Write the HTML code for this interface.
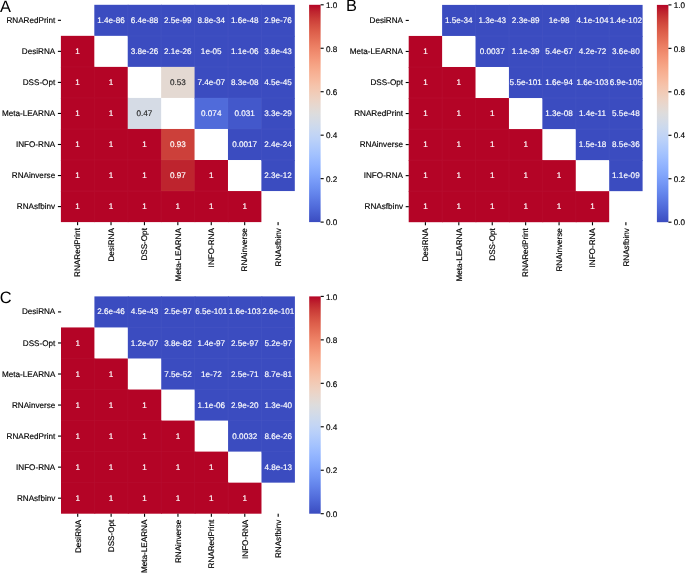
<!DOCTYPE html>
<html><head><meta charset="utf-8"><title>Figure</title>
<style>html,body{margin:0;padding:0;background:#fff;}body{width:685px;height:573px;overflow:hidden;}svg{display:block;}</style>
</head><body>
<svg width="685" height="573" viewBox="0 0 685 573" font-family="'Liberation Sans', Arial, Helvetica, sans-serif" font-size="8.13" text-rendering="geometricPrecision" stroke-width="0.16" stroke-linejoin="round">
<rect width="685" height="573" fill="#fff"/>
<defs><linearGradient id="cw" x1="0" y1="1" x2="0" y2="0">
<stop offset="0.0000" stop-color="#3b4cc0"/>
<stop offset="0.0312" stop-color="#445acc"/>
<stop offset="0.0625" stop-color="#4e68d8"/>
<stop offset="0.0938" stop-color="#5875e1"/>
<stop offset="0.1250" stop-color="#6282ea"/>
<stop offset="0.1562" stop-color="#6c8ff1"/>
<stop offset="0.1875" stop-color="#779af7"/>
<stop offset="0.2188" stop-color="#82a6fb"/>
<stop offset="0.2500" stop-color="#8db0fe"/>
<stop offset="0.2812" stop-color="#98b9ff"/>
<stop offset="0.3125" stop-color="#a3c2fe"/>
<stop offset="0.3438" stop-color="#aec9fc"/>
<stop offset="0.3750" stop-color="#b9d0f9"/>
<stop offset="0.4062" stop-color="#c3d5f4"/>
<stop offset="0.4375" stop-color="#ccd9ed"/>
<stop offset="0.4688" stop-color="#d5dbe5"/>
<stop offset="0.5000" stop-color="#dddcdc"/>
<stop offset="0.5312" stop-color="#e5d8d1"/>
<stop offset="0.5625" stop-color="#ecd3c5"/>
<stop offset="0.5938" stop-color="#f1ccb8"/>
<stop offset="0.6250" stop-color="#f5c4ac"/>
<stop offset="0.6562" stop-color="#f7ba9f"/>
<stop offset="0.6875" stop-color="#f7b093"/>
<stop offset="0.7188" stop-color="#f6a586"/>
<stop offset="0.7500" stop-color="#f4987a"/>
<stop offset="0.7812" stop-color="#f08b6e"/>
<stop offset="0.8125" stop-color="#eb7d62"/>
<stop offset="0.8438" stop-color="#e46e56"/>
<stop offset="0.8750" stop-color="#dd5f4b"/>
<stop offset="0.9062" stop-color="#d44e41"/>
<stop offset="0.9375" stop-color="#ca3b37"/>
<stop offset="0.9688" stop-color="#be242e"/>
<stop offset="1.0000" stop-color="#b40426"/>
</linearGradient></defs>
<g><text x="0.0" y="11.6" font-size="16.4" fill="#000">A</text>
<rect x="94.31" y="4.80" width="34.21" height="31.04" fill="#3b4cc0"/>
<text x="111.02" y="22.87" text-anchor="middle" fill="#fff" stroke="#fff">1.4e-86</text>
<rect x="127.73" y="4.80" width="34.21" height="31.84" fill="#3b4cc0"/>
<text x="144.44" y="22.87" text-anchor="middle" fill="#fff" stroke="#fff">6.4e-88</text>
<rect x="161.14" y="4.80" width="34.21" height="31.84" fill="#3b4cc0"/>
<text x="177.85" y="22.87" text-anchor="middle" fill="#fff" stroke="#fff">2.5e-99</text>
<rect x="194.56" y="4.80" width="34.21" height="31.84" fill="#3b4cc0"/>
<text x="211.26" y="22.87" text-anchor="middle" fill="#fff" stroke="#fff">8.8e-34</text>
<rect x="227.97" y="4.80" width="34.21" height="31.84" fill="#3b4cc0"/>
<text x="244.68" y="22.87" text-anchor="middle" fill="#fff" stroke="#fff">1.6e-48</text>
<rect x="261.39" y="4.80" width="33.41" height="31.84" fill="#3b4cc0"/>
<text x="278.09" y="22.87" text-anchor="middle" fill="#fff" stroke="#fff">2.9e-76</text>
<rect x="60.90" y="35.84" width="33.41" height="31.84" fill="#b40426"/>
<text x="77.61" y="53.91" text-anchor="middle" fill="#fff" stroke="#fff">1</text>
<rect x="127.73" y="35.84" width="34.21" height="31.04" fill="#3b4cc0"/>
<text x="144.44" y="53.91" text-anchor="middle" fill="#fff" stroke="#fff">3.8e-26</text>
<rect x="161.14" y="35.84" width="34.21" height="31.84" fill="#3b4cc0"/>
<text x="177.85" y="53.91" text-anchor="middle" fill="#fff" stroke="#fff">2.1e-26</text>
<rect x="194.56" y="35.84" width="34.21" height="31.84" fill="#3b4cc0"/>
<text x="211.26" y="53.91" text-anchor="middle" fill="#fff" stroke="#fff">1e-05</text>
<rect x="227.97" y="35.84" width="34.21" height="31.84" fill="#3b4cc0"/>
<text x="244.68" y="53.91" text-anchor="middle" fill="#fff" stroke="#fff">1.1e-06</text>
<rect x="261.39" y="35.84" width="33.41" height="31.84" fill="#3b4cc0"/>
<text x="278.09" y="53.91" text-anchor="middle" fill="#fff" stroke="#fff">3.8e-43</text>
<rect x="60.90" y="66.89" width="34.21" height="31.84" fill="#b40426"/>
<text x="77.61" y="84.96" text-anchor="middle" fill="#fff" stroke="#fff">1</text>
<rect x="94.31" y="66.89" width="33.41" height="31.84" fill="#b40426"/>
<text x="111.02" y="84.96" text-anchor="middle" fill="#fff" stroke="#fff">1</text>
<rect x="161.14" y="66.89" width="34.21" height="31.04" fill="#e4d9d2"/>
<text x="177.85" y="84.96" text-anchor="middle" fill="#262626" stroke="#262626">0.53</text>
<rect x="194.56" y="66.89" width="34.21" height="31.84" fill="#3b4cc0"/>
<text x="211.26" y="84.96" text-anchor="middle" fill="#fff" stroke="#fff">7.4e-07</text>
<rect x="227.97" y="66.89" width="34.21" height="31.84" fill="#3b4cc0"/>
<text x="244.68" y="84.96" text-anchor="middle" fill="#fff" stroke="#fff">8.3e-08</text>
<rect x="261.39" y="66.89" width="33.41" height="31.84" fill="#3b4cc0"/>
<text x="278.09" y="84.96" text-anchor="middle" fill="#fff" stroke="#fff">4.5e-45</text>
<rect x="60.90" y="97.93" width="34.21" height="31.84" fill="#b40426"/>
<text x="77.61" y="116.00" text-anchor="middle" fill="#fff" stroke="#fff">1</text>
<rect x="94.31" y="97.93" width="34.21" height="31.84" fill="#b40426"/>
<text x="111.02" y="116.00" text-anchor="middle" fill="#fff" stroke="#fff">1</text>
<rect x="127.73" y="97.93" width="33.41" height="31.84" fill="#d5dbe5"/>
<text x="144.44" y="116.00" text-anchor="middle" fill="#262626" stroke="#262626">0.47</text>
<rect x="194.56" y="97.93" width="34.21" height="31.04" fill="#506bda"/>
<text x="211.26" y="116.00" text-anchor="middle" fill="#fff" stroke="#fff">0.074</text>
<rect x="227.97" y="97.93" width="34.21" height="31.84" fill="#4358cb"/>
<text x="244.68" y="116.00" text-anchor="middle" fill="#fff" stroke="#fff">0.031</text>
<rect x="261.39" y="97.93" width="33.41" height="31.84" fill="#3b4cc0"/>
<text x="278.09" y="116.00" text-anchor="middle" fill="#fff" stroke="#fff">3.3e-29</text>
<rect x="60.90" y="128.97" width="34.21" height="31.84" fill="#b40426"/>
<text x="77.61" y="147.04" text-anchor="middle" fill="#fff" stroke="#fff">1</text>
<rect x="94.31" y="128.97" width="34.21" height="31.84" fill="#b40426"/>
<text x="111.02" y="147.04" text-anchor="middle" fill="#fff" stroke="#fff">1</text>
<rect x="127.73" y="128.97" width="34.21" height="31.84" fill="#b40426"/>
<text x="144.44" y="147.04" text-anchor="middle" fill="#fff" stroke="#fff">1</text>
<rect x="161.14" y="128.97" width="33.41" height="31.84" fill="#cc403a"/>
<text x="177.85" y="147.04" text-anchor="middle" fill="#fff" stroke="#fff">0.93</text>
<rect x="227.97" y="128.97" width="34.21" height="31.04" fill="#3b4cc0"/>
<text x="244.68" y="147.04" text-anchor="middle" fill="#fff" stroke="#fff">0.0017</text>
<rect x="261.39" y="128.97" width="33.41" height="31.84" fill="#3b4cc0"/>
<text x="278.09" y="147.04" text-anchor="middle" fill="#fff" stroke="#fff">2.4e-24</text>
<rect x="60.90" y="160.01" width="34.21" height="31.84" fill="#b40426"/>
<text x="77.61" y="178.09" text-anchor="middle" fill="#fff" stroke="#fff">1</text>
<rect x="94.31" y="160.01" width="34.21" height="31.84" fill="#b40426"/>
<text x="111.02" y="178.09" text-anchor="middle" fill="#fff" stroke="#fff">1</text>
<rect x="127.73" y="160.01" width="34.21" height="31.84" fill="#b40426"/>
<text x="144.44" y="178.09" text-anchor="middle" fill="#fff" stroke="#fff">1</text>
<rect x="161.14" y="160.01" width="34.21" height="31.84" fill="#be242e"/>
<text x="177.85" y="178.09" text-anchor="middle" fill="#fff" stroke="#fff">0.97</text>
<rect x="194.56" y="160.01" width="33.41" height="31.84" fill="#b40426"/>
<text x="211.26" y="178.09" text-anchor="middle" fill="#fff" stroke="#fff">1</text>
<rect x="261.39" y="160.01" width="33.41" height="31.04" fill="#3b4cc0"/>
<text x="278.09" y="178.09" text-anchor="middle" fill="#fff" stroke="#fff">2.3e-12</text>
<rect x="60.90" y="191.06" width="34.21" height="31.04" fill="#b40426"/>
<text x="77.61" y="209.13" text-anchor="middle" fill="#fff" stroke="#fff">1</text>
<rect x="94.31" y="191.06" width="34.21" height="31.04" fill="#b40426"/>
<text x="111.02" y="209.13" text-anchor="middle" fill="#fff" stroke="#fff">1</text>
<rect x="127.73" y="191.06" width="34.21" height="31.04" fill="#b40426"/>
<text x="144.44" y="209.13" text-anchor="middle" fill="#fff" stroke="#fff">1</text>
<rect x="161.14" y="191.06" width="34.21" height="31.04" fill="#b40426"/>
<text x="177.85" y="209.13" text-anchor="middle" fill="#fff" stroke="#fff">1</text>
<rect x="194.56" y="191.06" width="34.21" height="31.04" fill="#b40426"/>
<text x="211.26" y="209.13" text-anchor="middle" fill="#fff" stroke="#fff">1</text>
<rect x="227.97" y="191.06" width="33.41" height="31.04" fill="#b40426"/>
<text x="244.68" y="209.13" text-anchor="middle" fill="#fff" stroke="#fff">1</text>
<rect x="127.23" y="4.80" width="1" height="31.04" fill="#fff" fill-opacity="0.035"/>
<rect x="160.64" y="4.80" width="1" height="31.04" fill="#fff" fill-opacity="0.035"/>
<rect x="127.73" y="35.34" width="33.41" height="1" fill="#fff" fill-opacity="0.035"/>
<rect x="194.06" y="4.80" width="1" height="31.04" fill="#fff" fill-opacity="0.035"/>
<rect x="161.14" y="35.34" width="33.41" height="1" fill="#fff" fill-opacity="0.035"/>
<rect x="227.47" y="4.80" width="1" height="31.04" fill="#fff" fill-opacity="0.035"/>
<rect x="194.56" y="35.34" width="33.41" height="1" fill="#fff" fill-opacity="0.035"/>
<rect x="260.89" y="4.80" width="1" height="31.04" fill="#fff" fill-opacity="0.035"/>
<rect x="227.97" y="35.34" width="33.41" height="1" fill="#fff" fill-opacity="0.035"/>
<rect x="261.39" y="35.34" width="33.41" height="1" fill="#fff" fill-opacity="0.035"/>
<rect x="60.90" y="66.39" width="33.41" height="1" fill="#fff" fill-opacity="0.035"/>
<rect x="160.64" y="35.84" width="1" height="31.04" fill="#fff" fill-opacity="0.035"/>
<rect x="194.06" y="35.84" width="1" height="31.04" fill="#fff" fill-opacity="0.035"/>
<rect x="161.14" y="66.39" width="33.41" height="1" fill="#fff" fill-opacity="0.035"/>
<rect x="227.47" y="35.84" width="1" height="31.04" fill="#fff" fill-opacity="0.035"/>
<rect x="194.56" y="66.39" width="33.41" height="1" fill="#fff" fill-opacity="0.035"/>
<rect x="260.89" y="35.84" width="1" height="31.04" fill="#fff" fill-opacity="0.035"/>
<rect x="227.97" y="66.39" width="33.41" height="1" fill="#fff" fill-opacity="0.035"/>
<rect x="261.39" y="66.39" width="33.41" height="1" fill="#fff" fill-opacity="0.035"/>
<rect x="93.81" y="66.89" width="1" height="31.04" fill="#fff" fill-opacity="0.035"/>
<rect x="60.90" y="97.43" width="33.41" height="1" fill="#fff" fill-opacity="0.035"/>
<rect x="94.31" y="97.43" width="33.41" height="1" fill="#fff" fill-opacity="0.035"/>
<rect x="194.06" y="66.89" width="1" height="31.04" fill="#fff" fill-opacity="0.035"/>
<rect x="227.47" y="66.89" width="1" height="31.04" fill="#fff" fill-opacity="0.035"/>
<rect x="194.56" y="97.43" width="33.41" height="1" fill="#fff" fill-opacity="0.035"/>
<rect x="260.89" y="66.89" width="1" height="31.04" fill="#fff" fill-opacity="0.035"/>
<rect x="227.97" y="97.43" width="33.41" height="1" fill="#fff" fill-opacity="0.035"/>
<rect x="261.39" y="97.43" width="33.41" height="1" fill="#fff" fill-opacity="0.035"/>
<rect x="93.81" y="97.93" width="1" height="31.04" fill="#fff" fill-opacity="0.035"/>
<rect x="60.90" y="128.47" width="33.41" height="1" fill="#fff" fill-opacity="0.035"/>
<rect x="127.23" y="97.93" width="1" height="31.04" fill="#fff" fill-opacity="0.035"/>
<rect x="94.31" y="128.47" width="33.41" height="1" fill="#fff" fill-opacity="0.035"/>
<rect x="127.73" y="128.47" width="33.41" height="1" fill="#fff" fill-opacity="0.035"/>
<rect x="227.47" y="97.93" width="1" height="31.04" fill="#fff" fill-opacity="0.035"/>
<rect x="260.89" y="97.93" width="1" height="31.04" fill="#fff" fill-opacity="0.035"/>
<rect x="227.97" y="128.47" width="33.41" height="1" fill="#fff" fill-opacity="0.035"/>
<rect x="261.39" y="128.47" width="33.41" height="1" fill="#fff" fill-opacity="0.035"/>
<rect x="93.81" y="128.97" width="1" height="31.04" fill="#fff" fill-opacity="0.035"/>
<rect x="60.90" y="159.51" width="33.41" height="1" fill="#fff" fill-opacity="0.035"/>
<rect x="127.23" y="128.97" width="1" height="31.04" fill="#fff" fill-opacity="0.035"/>
<rect x="94.31" y="159.51" width="33.41" height="1" fill="#fff" fill-opacity="0.035"/>
<rect x="160.64" y="128.97" width="1" height="31.04" fill="#fff" fill-opacity="0.035"/>
<rect x="127.73" y="159.51" width="33.41" height="1" fill="#fff" fill-opacity="0.035"/>
<rect x="161.14" y="159.51" width="33.41" height="1" fill="#fff" fill-opacity="0.035"/>
<rect x="260.89" y="128.97" width="1" height="31.04" fill="#fff" fill-opacity="0.035"/>
<rect x="261.39" y="159.51" width="33.41" height="1" fill="#fff" fill-opacity="0.035"/>
<rect x="93.81" y="160.01" width="1" height="31.04" fill="#fff" fill-opacity="0.035"/>
<rect x="60.90" y="190.56" width="33.41" height="1" fill="#fff" fill-opacity="0.035"/>
<rect x="127.23" y="160.01" width="1" height="31.04" fill="#fff" fill-opacity="0.035"/>
<rect x="94.31" y="190.56" width="33.41" height="1" fill="#fff" fill-opacity="0.035"/>
<rect x="160.64" y="160.01" width="1" height="31.04" fill="#fff" fill-opacity="0.035"/>
<rect x="127.73" y="190.56" width="33.41" height="1" fill="#fff" fill-opacity="0.035"/>
<rect x="194.06" y="160.01" width="1" height="31.04" fill="#fff" fill-opacity="0.035"/>
<rect x="161.14" y="190.56" width="33.41" height="1" fill="#fff" fill-opacity="0.035"/>
<rect x="194.56" y="190.56" width="33.41" height="1" fill="#fff" fill-opacity="0.035"/>
<rect x="93.81" y="191.06" width="1" height="31.04" fill="#fff" fill-opacity="0.035"/>
<rect x="127.23" y="191.06" width="1" height="31.04" fill="#fff" fill-opacity="0.035"/>
<rect x="160.64" y="191.06" width="1" height="31.04" fill="#fff" fill-opacity="0.035"/>
<rect x="194.06" y="191.06" width="1" height="31.04" fill="#fff" fill-opacity="0.035"/>
<rect x="227.47" y="191.06" width="1" height="31.04" fill="#fff" fill-opacity="0.035"/>
<rect x="57.90" y="19.77" width="3.1" height="1.1" fill="#000"/>
<text x="55.20" y="22.87" text-anchor="end" fill="#000" stroke="#000">RNARedPrint</text>
<rect x="57.90" y="50.81" width="3.1" height="1.1" fill="#000"/>
<text x="55.20" y="53.91" text-anchor="end" fill="#000" stroke="#000">DesiRNA</text>
<rect x="57.90" y="81.86" width="3.1" height="1.1" fill="#000"/>
<text x="55.20" y="84.96" text-anchor="end" fill="#000" stroke="#000">DSS-Opt</text>
<rect x="57.90" y="112.90" width="3.1" height="1.1" fill="#000"/>
<text x="55.20" y="116.00" text-anchor="end" fill="#000" stroke="#000">Meta-LEARNA</text>
<rect x="57.90" y="143.94" width="3.1" height="1.1" fill="#000"/>
<text x="55.20" y="147.04" text-anchor="end" fill="#000" stroke="#000">INFO-RNA</text>
<rect x="57.90" y="174.99" width="3.1" height="1.1" fill="#000"/>
<text x="55.20" y="178.09" text-anchor="end" fill="#000" stroke="#000">RNAinverse</text>
<rect x="57.90" y="206.03" width="3.1" height="1.1" fill="#000"/>
<text x="55.20" y="209.13" text-anchor="end" fill="#000" stroke="#000">RNAsfbinv</text>
<rect x="77.06" y="222.10" width="1.1" height="3.1" fill="#000"/>
<text transform="translate(80.41,228.10) rotate(-90)" text-anchor="end" fill="#000" stroke="#000">RNARedPrint</text>
<rect x="110.47" y="222.10" width="1.1" height="3.1" fill="#000"/>
<text transform="translate(113.82,228.10) rotate(-90)" text-anchor="end" fill="#000" stroke="#000">DesiRNA</text>
<rect x="143.89" y="222.10" width="1.1" height="3.1" fill="#000"/>
<text transform="translate(147.24,228.10) rotate(-90)" text-anchor="end" fill="#000" stroke="#000">DSS-Opt</text>
<rect x="177.30" y="222.10" width="1.1" height="3.1" fill="#000"/>
<text transform="translate(180.65,228.10) rotate(-90)" text-anchor="end" fill="#000" stroke="#000">Meta-LEARNA</text>
<rect x="210.71" y="222.10" width="1.1" height="3.1" fill="#000"/>
<text transform="translate(214.06,228.10) rotate(-90)" text-anchor="end" fill="#000" stroke="#000">INFO-RNA</text>
<rect x="244.13" y="222.10" width="1.1" height="3.1" fill="#000"/>
<text transform="translate(247.48,228.10) rotate(-90)" text-anchor="end" fill="#000" stroke="#000">RNAinverse</text>
<rect x="277.54" y="222.10" width="1.1" height="3.1" fill="#000"/>
<text transform="translate(280.89,228.10) rotate(-90)" text-anchor="end" fill="#000" stroke="#000">RNAsfbinv</text>
<rect x="309.10" y="4.80" width="11.5" height="217.30" fill="url(#cw)"/>
<rect x="320.60" y="221.55" width="3.1" height="1.1" fill="#000"/>
<text x="326.00" y="225.10" fill="#000" stroke="#000">0.0</text>
<rect x="320.60" y="178.09" width="3.1" height="1.1" fill="#000"/>
<text x="326.00" y="181.74" fill="#000" stroke="#000">0.2</text>
<rect x="320.60" y="134.63" width="3.1" height="1.1" fill="#000"/>
<text x="326.00" y="138.38" fill="#000" stroke="#000">0.4</text>
<rect x="320.60" y="91.17" width="3.1" height="1.1" fill="#000"/>
<text x="326.00" y="95.02" fill="#000" stroke="#000">0.6</text>
<rect x="320.60" y="47.71" width="3.1" height="1.1" fill="#000"/>
<text x="326.00" y="51.66" fill="#000" stroke="#000">0.8</text>
<rect x="320.60" y="4.25" width="3.1" height="1.1" fill="#000"/>
<text x="326.00" y="8.30" fill="#000" stroke="#000">1.0</text></g>
<g><text x="346.1" y="11.3" font-size="16.4" fill="#000">B</text>
<rect x="442.11" y="4.90" width="34.21" height="31.04" fill="#3b4cc0"/>
<text x="458.82" y="22.97" text-anchor="middle" fill="#fff" stroke="#fff">1.5e-34</text>
<rect x="475.53" y="4.90" width="34.21" height="31.84" fill="#3b4cc0"/>
<text x="492.24" y="22.97" text-anchor="middle" fill="#fff" stroke="#fff">1.3e-43</text>
<rect x="508.94" y="4.90" width="34.21" height="31.84" fill="#3b4cc0"/>
<text x="525.65" y="22.97" text-anchor="middle" fill="#fff" stroke="#fff">2.3e-89</text>
<rect x="542.36" y="4.90" width="34.21" height="31.84" fill="#3b4cc0"/>
<text x="559.06" y="22.97" text-anchor="middle" fill="#fff" stroke="#fff">1e-98</text>
<rect x="575.77" y="4.90" width="34.21" height="31.84" fill="#3b4cc0"/>
<text x="592.48" y="22.97" text-anchor="middle" fill="#fff" stroke="#fff">4.1e-104</text>
<rect x="609.19" y="4.90" width="33.41" height="31.84" fill="#3b4cc0"/>
<text x="625.89" y="22.97" text-anchor="middle" fill="#fff" stroke="#fff">1.4e-102</text>
<rect x="408.70" y="35.94" width="33.41" height="31.84" fill="#b40426"/>
<text x="425.41" y="54.01" text-anchor="middle" fill="#fff" stroke="#fff">1</text>
<rect x="475.53" y="35.94" width="34.21" height="31.04" fill="#3b4cc0"/>
<text x="492.24" y="54.01" text-anchor="middle" fill="#fff" stroke="#fff">0.0037</text>
<rect x="508.94" y="35.94" width="34.21" height="31.84" fill="#3b4cc0"/>
<text x="525.65" y="54.01" text-anchor="middle" fill="#fff" stroke="#fff">1.1e-39</text>
<rect x="542.36" y="35.94" width="34.21" height="31.84" fill="#3b4cc0"/>
<text x="559.06" y="54.01" text-anchor="middle" fill="#fff" stroke="#fff">5.4e-67</text>
<rect x="575.77" y="35.94" width="34.21" height="31.84" fill="#3b4cc0"/>
<text x="592.48" y="54.01" text-anchor="middle" fill="#fff" stroke="#fff">4.2e-72</text>
<rect x="609.19" y="35.94" width="33.41" height="31.84" fill="#3b4cc0"/>
<text x="625.89" y="54.01" text-anchor="middle" fill="#fff" stroke="#fff">3.6e-80</text>
<rect x="408.70" y="66.99" width="34.21" height="31.84" fill="#b40426"/>
<text x="425.41" y="85.06" text-anchor="middle" fill="#fff" stroke="#fff">1</text>
<rect x="442.11" y="66.99" width="33.41" height="31.84" fill="#b40426"/>
<text x="458.82" y="85.06" text-anchor="middle" fill="#fff" stroke="#fff">1</text>
<rect x="508.94" y="66.99" width="34.21" height="31.04" fill="#3b4cc0"/>
<text x="525.65" y="85.06" text-anchor="middle" fill="#fff" stroke="#fff">5.5e-101</text>
<rect x="542.36" y="66.99" width="34.21" height="31.84" fill="#3b4cc0"/>
<text x="559.06" y="85.06" text-anchor="middle" fill="#fff" stroke="#fff">1.6e-94</text>
<rect x="575.77" y="66.99" width="34.21" height="31.84" fill="#3b4cc0"/>
<text x="592.48" y="85.06" text-anchor="middle" fill="#fff" stroke="#fff">1.6e-103</text>
<rect x="609.19" y="66.99" width="33.41" height="31.84" fill="#3b4cc0"/>
<text x="625.89" y="85.06" text-anchor="middle" fill="#fff" stroke="#fff">6.9e-105</text>
<rect x="408.70" y="98.03" width="34.21" height="31.84" fill="#b40426"/>
<text x="425.41" y="116.10" text-anchor="middle" fill="#fff" stroke="#fff">1</text>
<rect x="442.11" y="98.03" width="34.21" height="31.84" fill="#b40426"/>
<text x="458.82" y="116.10" text-anchor="middle" fill="#fff" stroke="#fff">1</text>
<rect x="475.53" y="98.03" width="33.41" height="31.84" fill="#b40426"/>
<text x="492.24" y="116.10" text-anchor="middle" fill="#fff" stroke="#fff">1</text>
<rect x="542.36" y="98.03" width="34.21" height="31.04" fill="#3b4cc0"/>
<text x="559.06" y="116.10" text-anchor="middle" fill="#fff" stroke="#fff">1.3e-08</text>
<rect x="575.77" y="98.03" width="34.21" height="31.84" fill="#3b4cc0"/>
<text x="592.48" y="116.10" text-anchor="middle" fill="#fff" stroke="#fff">1.4e-11</text>
<rect x="609.19" y="98.03" width="33.41" height="31.84" fill="#3b4cc0"/>
<text x="625.89" y="116.10" text-anchor="middle" fill="#fff" stroke="#fff">5.5e-48</text>
<rect x="408.70" y="129.07" width="34.21" height="31.84" fill="#b40426"/>
<text x="425.41" y="147.14" text-anchor="middle" fill="#fff" stroke="#fff">1</text>
<rect x="442.11" y="129.07" width="34.21" height="31.84" fill="#b40426"/>
<text x="458.82" y="147.14" text-anchor="middle" fill="#fff" stroke="#fff">1</text>
<rect x="475.53" y="129.07" width="34.21" height="31.84" fill="#b40426"/>
<text x="492.24" y="147.14" text-anchor="middle" fill="#fff" stroke="#fff">1</text>
<rect x="508.94" y="129.07" width="33.41" height="31.84" fill="#b40426"/>
<text x="525.65" y="147.14" text-anchor="middle" fill="#fff" stroke="#fff">1</text>
<rect x="575.77" y="129.07" width="34.21" height="31.04" fill="#3b4cc0"/>
<text x="592.48" y="147.14" text-anchor="middle" fill="#fff" stroke="#fff">1.5e-18</text>
<rect x="609.19" y="129.07" width="33.41" height="31.84" fill="#3b4cc0"/>
<text x="625.89" y="147.14" text-anchor="middle" fill="#fff" stroke="#fff">8.5e-36</text>
<rect x="408.70" y="160.11" width="34.21" height="31.84" fill="#b40426"/>
<text x="425.41" y="178.19" text-anchor="middle" fill="#fff" stroke="#fff">1</text>
<rect x="442.11" y="160.11" width="34.21" height="31.84" fill="#b40426"/>
<text x="458.82" y="178.19" text-anchor="middle" fill="#fff" stroke="#fff">1</text>
<rect x="475.53" y="160.11" width="34.21" height="31.84" fill="#b40426"/>
<text x="492.24" y="178.19" text-anchor="middle" fill="#fff" stroke="#fff">1</text>
<rect x="508.94" y="160.11" width="34.21" height="31.84" fill="#b40426"/>
<text x="525.65" y="178.19" text-anchor="middle" fill="#fff" stroke="#fff">1</text>
<rect x="542.36" y="160.11" width="33.41" height="31.84" fill="#b40426"/>
<text x="559.06" y="178.19" text-anchor="middle" fill="#fff" stroke="#fff">1</text>
<rect x="609.19" y="160.11" width="33.41" height="31.04" fill="#3b4cc0"/>
<text x="625.89" y="178.19" text-anchor="middle" fill="#fff" stroke="#fff">1.1e-09</text>
<rect x="408.70" y="191.16" width="34.21" height="31.04" fill="#b40426"/>
<text x="425.41" y="209.23" text-anchor="middle" fill="#fff" stroke="#fff">1</text>
<rect x="442.11" y="191.16" width="34.21" height="31.04" fill="#b40426"/>
<text x="458.82" y="209.23" text-anchor="middle" fill="#fff" stroke="#fff">1</text>
<rect x="475.53" y="191.16" width="34.21" height="31.04" fill="#b40426"/>
<text x="492.24" y="209.23" text-anchor="middle" fill="#fff" stroke="#fff">1</text>
<rect x="508.94" y="191.16" width="34.21" height="31.04" fill="#b40426"/>
<text x="525.65" y="209.23" text-anchor="middle" fill="#fff" stroke="#fff">1</text>
<rect x="542.36" y="191.16" width="34.21" height="31.04" fill="#b40426"/>
<text x="559.06" y="209.23" text-anchor="middle" fill="#fff" stroke="#fff">1</text>
<rect x="575.77" y="191.16" width="33.41" height="31.04" fill="#b40426"/>
<text x="592.48" y="209.23" text-anchor="middle" fill="#fff" stroke="#fff">1</text>
<rect x="475.03" y="4.90" width="1" height="31.04" fill="#fff" fill-opacity="0.035"/>
<rect x="508.44" y="4.90" width="1" height="31.04" fill="#fff" fill-opacity="0.035"/>
<rect x="475.53" y="35.44" width="33.41" height="1" fill="#fff" fill-opacity="0.035"/>
<rect x="541.86" y="4.90" width="1" height="31.04" fill="#fff" fill-opacity="0.035"/>
<rect x="508.94" y="35.44" width="33.41" height="1" fill="#fff" fill-opacity="0.035"/>
<rect x="575.27" y="4.90" width="1" height="31.04" fill="#fff" fill-opacity="0.035"/>
<rect x="542.36" y="35.44" width="33.41" height="1" fill="#fff" fill-opacity="0.035"/>
<rect x="608.69" y="4.90" width="1" height="31.04" fill="#fff" fill-opacity="0.035"/>
<rect x="575.77" y="35.44" width="33.41" height="1" fill="#fff" fill-opacity="0.035"/>
<rect x="609.19" y="35.44" width="33.41" height="1" fill="#fff" fill-opacity="0.035"/>
<rect x="408.70" y="66.49" width="33.41" height="1" fill="#fff" fill-opacity="0.035"/>
<rect x="508.44" y="35.94" width="1" height="31.04" fill="#fff" fill-opacity="0.035"/>
<rect x="541.86" y="35.94" width="1" height="31.04" fill="#fff" fill-opacity="0.035"/>
<rect x="508.94" y="66.49" width="33.41" height="1" fill="#fff" fill-opacity="0.035"/>
<rect x="575.27" y="35.94" width="1" height="31.04" fill="#fff" fill-opacity="0.035"/>
<rect x="542.36" y="66.49" width="33.41" height="1" fill="#fff" fill-opacity="0.035"/>
<rect x="608.69" y="35.94" width="1" height="31.04" fill="#fff" fill-opacity="0.035"/>
<rect x="575.77" y="66.49" width="33.41" height="1" fill="#fff" fill-opacity="0.035"/>
<rect x="609.19" y="66.49" width="33.41" height="1" fill="#fff" fill-opacity="0.035"/>
<rect x="441.61" y="66.99" width="1" height="31.04" fill="#fff" fill-opacity="0.035"/>
<rect x="408.70" y="97.53" width="33.41" height="1" fill="#fff" fill-opacity="0.035"/>
<rect x="442.11" y="97.53" width="33.41" height="1" fill="#fff" fill-opacity="0.035"/>
<rect x="541.86" y="66.99" width="1" height="31.04" fill="#fff" fill-opacity="0.035"/>
<rect x="575.27" y="66.99" width="1" height="31.04" fill="#fff" fill-opacity="0.035"/>
<rect x="542.36" y="97.53" width="33.41" height="1" fill="#fff" fill-opacity="0.035"/>
<rect x="608.69" y="66.99" width="1" height="31.04" fill="#fff" fill-opacity="0.035"/>
<rect x="575.77" y="97.53" width="33.41" height="1" fill="#fff" fill-opacity="0.035"/>
<rect x="609.19" y="97.53" width="33.41" height="1" fill="#fff" fill-opacity="0.035"/>
<rect x="441.61" y="98.03" width="1" height="31.04" fill="#fff" fill-opacity="0.035"/>
<rect x="408.70" y="128.57" width="33.41" height="1" fill="#fff" fill-opacity="0.035"/>
<rect x="475.03" y="98.03" width="1" height="31.04" fill="#fff" fill-opacity="0.035"/>
<rect x="442.11" y="128.57" width="33.41" height="1" fill="#fff" fill-opacity="0.035"/>
<rect x="475.53" y="128.57" width="33.41" height="1" fill="#fff" fill-opacity="0.035"/>
<rect x="575.27" y="98.03" width="1" height="31.04" fill="#fff" fill-opacity="0.035"/>
<rect x="608.69" y="98.03" width="1" height="31.04" fill="#fff" fill-opacity="0.035"/>
<rect x="575.77" y="128.57" width="33.41" height="1" fill="#fff" fill-opacity="0.035"/>
<rect x="609.19" y="128.57" width="33.41" height="1" fill="#fff" fill-opacity="0.035"/>
<rect x="441.61" y="129.07" width="1" height="31.04" fill="#fff" fill-opacity="0.035"/>
<rect x="408.70" y="159.61" width="33.41" height="1" fill="#fff" fill-opacity="0.035"/>
<rect x="475.03" y="129.07" width="1" height="31.04" fill="#fff" fill-opacity="0.035"/>
<rect x="442.11" y="159.61" width="33.41" height="1" fill="#fff" fill-opacity="0.035"/>
<rect x="508.44" y="129.07" width="1" height="31.04" fill="#fff" fill-opacity="0.035"/>
<rect x="475.53" y="159.61" width="33.41" height="1" fill="#fff" fill-opacity="0.035"/>
<rect x="508.94" y="159.61" width="33.41" height="1" fill="#fff" fill-opacity="0.035"/>
<rect x="608.69" y="129.07" width="1" height="31.04" fill="#fff" fill-opacity="0.035"/>
<rect x="609.19" y="159.61" width="33.41" height="1" fill="#fff" fill-opacity="0.035"/>
<rect x="441.61" y="160.11" width="1" height="31.04" fill="#fff" fill-opacity="0.035"/>
<rect x="408.70" y="190.66" width="33.41" height="1" fill="#fff" fill-opacity="0.035"/>
<rect x="475.03" y="160.11" width="1" height="31.04" fill="#fff" fill-opacity="0.035"/>
<rect x="442.11" y="190.66" width="33.41" height="1" fill="#fff" fill-opacity="0.035"/>
<rect x="508.44" y="160.11" width="1" height="31.04" fill="#fff" fill-opacity="0.035"/>
<rect x="475.53" y="190.66" width="33.41" height="1" fill="#fff" fill-opacity="0.035"/>
<rect x="541.86" y="160.11" width="1" height="31.04" fill="#fff" fill-opacity="0.035"/>
<rect x="508.94" y="190.66" width="33.41" height="1" fill="#fff" fill-opacity="0.035"/>
<rect x="542.36" y="190.66" width="33.41" height="1" fill="#fff" fill-opacity="0.035"/>
<rect x="441.61" y="191.16" width="1" height="31.04" fill="#fff" fill-opacity="0.035"/>
<rect x="475.03" y="191.16" width="1" height="31.04" fill="#fff" fill-opacity="0.035"/>
<rect x="508.44" y="191.16" width="1" height="31.04" fill="#fff" fill-opacity="0.035"/>
<rect x="541.86" y="191.16" width="1" height="31.04" fill="#fff" fill-opacity="0.035"/>
<rect x="575.27" y="191.16" width="1" height="31.04" fill="#fff" fill-opacity="0.035"/>
<rect x="405.70" y="19.87" width="3.1" height="1.1" fill="#000"/>
<text x="403.00" y="22.97" text-anchor="end" fill="#000" stroke="#000">DesiRNA</text>
<rect x="405.70" y="50.91" width="3.1" height="1.1" fill="#000"/>
<text x="403.00" y="54.01" text-anchor="end" fill="#000" stroke="#000">Meta-LEARNA</text>
<rect x="405.70" y="81.96" width="3.1" height="1.1" fill="#000"/>
<text x="403.00" y="85.06" text-anchor="end" fill="#000" stroke="#000">DSS-Opt</text>
<rect x="405.70" y="113.00" width="3.1" height="1.1" fill="#000"/>
<text x="403.00" y="116.10" text-anchor="end" fill="#000" stroke="#000">RNARedPrint</text>
<rect x="405.70" y="144.04" width="3.1" height="1.1" fill="#000"/>
<text x="403.00" y="147.14" text-anchor="end" fill="#000" stroke="#000">RNAinverse</text>
<rect x="405.70" y="175.09" width="3.1" height="1.1" fill="#000"/>
<text x="403.00" y="178.19" text-anchor="end" fill="#000" stroke="#000">INFO-RNA</text>
<rect x="405.70" y="206.13" width="3.1" height="1.1" fill="#000"/>
<text x="403.00" y="209.23" text-anchor="end" fill="#000" stroke="#000">RNAsfbinv</text>
<rect x="424.86" y="222.20" width="1.1" height="3.1" fill="#000"/>
<text transform="translate(428.21,228.20) rotate(-90)" text-anchor="end" fill="#000" stroke="#000">DesiRNA</text>
<rect x="458.27" y="222.20" width="1.1" height="3.1" fill="#000"/>
<text transform="translate(461.62,228.20) rotate(-90)" text-anchor="end" fill="#000" stroke="#000">Meta-LEARNA</text>
<rect x="491.69" y="222.20" width="1.1" height="3.1" fill="#000"/>
<text transform="translate(495.04,228.20) rotate(-90)" text-anchor="end" fill="#000" stroke="#000">DSS-Opt</text>
<rect x="525.10" y="222.20" width="1.1" height="3.1" fill="#000"/>
<text transform="translate(528.45,228.20) rotate(-90)" text-anchor="end" fill="#000" stroke="#000">RNARedPrint</text>
<rect x="558.51" y="222.20" width="1.1" height="3.1" fill="#000"/>
<text transform="translate(561.86,228.20) rotate(-90)" text-anchor="end" fill="#000" stroke="#000">RNAinverse</text>
<rect x="591.93" y="222.20" width="1.1" height="3.1" fill="#000"/>
<text transform="translate(595.28,228.20) rotate(-90)" text-anchor="end" fill="#000" stroke="#000">INFO-RNA</text>
<rect x="625.34" y="222.20" width="1.1" height="3.1" fill="#000"/>
<text transform="translate(628.69,228.20) rotate(-90)" text-anchor="end" fill="#000" stroke="#000">RNAsfbinv</text>
<rect x="656.90" y="4.90" width="11.5" height="217.30" fill="url(#cw)"/>
<rect x="668.40" y="221.65" width="3.1" height="1.1" fill="#000"/>
<text x="673.80" y="225.20" fill="#000" stroke="#000">0.0</text>
<rect x="668.40" y="178.19" width="3.1" height="1.1" fill="#000"/>
<text x="673.80" y="181.84" fill="#000" stroke="#000">0.2</text>
<rect x="668.40" y="134.73" width="3.1" height="1.1" fill="#000"/>
<text x="673.80" y="138.48" fill="#000" stroke="#000">0.4</text>
<rect x="668.40" y="91.27" width="3.1" height="1.1" fill="#000"/>
<text x="673.80" y="95.12" fill="#000" stroke="#000">0.6</text>
<rect x="668.40" y="47.81" width="3.1" height="1.1" fill="#000"/>
<text x="673.80" y="51.76" fill="#000" stroke="#000">0.8</text>
<rect x="668.40" y="4.35" width="3.1" height="1.1" fill="#000"/>
<text x="673.80" y="8.40" fill="#000" stroke="#000">1.0</text></g>
<g><text x="-0.3" y="303.3" font-size="16.4" fill="#000">C</text>
<rect x="94.41" y="296.40" width="34.21" height="31.04" fill="#3b4cc0"/>
<text x="111.12" y="314.47" text-anchor="middle" fill="#fff" stroke="#fff">2.6e-46</text>
<rect x="127.83" y="296.40" width="34.21" height="31.84" fill="#3b4cc0"/>
<text x="144.54" y="314.47" text-anchor="middle" fill="#fff" stroke="#fff">4.5e-43</text>
<rect x="161.24" y="296.40" width="34.21" height="31.84" fill="#3b4cc0"/>
<text x="177.95" y="314.47" text-anchor="middle" fill="#fff" stroke="#fff">2.5e-97</text>
<rect x="194.66" y="296.40" width="34.21" height="31.84" fill="#3b4cc0"/>
<text x="211.36" y="314.47" text-anchor="middle" fill="#fff" stroke="#fff">6.5e-101</text>
<rect x="228.07" y="296.40" width="34.21" height="31.84" fill="#3b4cc0"/>
<text x="244.78" y="314.47" text-anchor="middle" fill="#fff" stroke="#fff">1.6e-103</text>
<rect x="261.49" y="296.40" width="33.41" height="31.84" fill="#3b4cc0"/>
<text x="278.19" y="314.47" text-anchor="middle" fill="#fff" stroke="#fff">2.6e-101</text>
<rect x="61.00" y="327.44" width="33.41" height="31.84" fill="#b40426"/>
<text x="77.71" y="345.51" text-anchor="middle" fill="#fff" stroke="#fff">1</text>
<rect x="127.83" y="327.44" width="34.21" height="31.04" fill="#3b4cc0"/>
<text x="144.54" y="345.51" text-anchor="middle" fill="#fff" stroke="#fff">1.2e-07</text>
<rect x="161.24" y="327.44" width="34.21" height="31.84" fill="#3b4cc0"/>
<text x="177.95" y="345.51" text-anchor="middle" fill="#fff" stroke="#fff">3.8e-82</text>
<rect x="194.66" y="327.44" width="34.21" height="31.84" fill="#3b4cc0"/>
<text x="211.36" y="345.51" text-anchor="middle" fill="#fff" stroke="#fff">1.4e-97</text>
<rect x="228.07" y="327.44" width="34.21" height="31.84" fill="#3b4cc0"/>
<text x="244.78" y="345.51" text-anchor="middle" fill="#fff" stroke="#fff">2.5e-97</text>
<rect x="261.49" y="327.44" width="33.41" height="31.84" fill="#3b4cc0"/>
<text x="278.19" y="345.51" text-anchor="middle" fill="#fff" stroke="#fff">5.2e-97</text>
<rect x="61.00" y="358.49" width="34.21" height="31.84" fill="#b40426"/>
<text x="77.71" y="376.56" text-anchor="middle" fill="#fff" stroke="#fff">1</text>
<rect x="94.41" y="358.49" width="33.41" height="31.84" fill="#b40426"/>
<text x="111.12" y="376.56" text-anchor="middle" fill="#fff" stroke="#fff">1</text>
<rect x="161.24" y="358.49" width="34.21" height="31.04" fill="#3b4cc0"/>
<text x="177.95" y="376.56" text-anchor="middle" fill="#fff" stroke="#fff">7.5e-52</text>
<rect x="194.66" y="358.49" width="34.21" height="31.84" fill="#3b4cc0"/>
<text x="211.36" y="376.56" text-anchor="middle" fill="#fff" stroke="#fff">1e-72</text>
<rect x="228.07" y="358.49" width="34.21" height="31.84" fill="#3b4cc0"/>
<text x="244.78" y="376.56" text-anchor="middle" fill="#fff" stroke="#fff">2.5e-71</text>
<rect x="261.49" y="358.49" width="33.41" height="31.84" fill="#3b4cc0"/>
<text x="278.19" y="376.56" text-anchor="middle" fill="#fff" stroke="#fff">8.7e-81</text>
<rect x="61.00" y="389.53" width="34.21" height="31.84" fill="#b40426"/>
<text x="77.71" y="407.60" text-anchor="middle" fill="#fff" stroke="#fff">1</text>
<rect x="94.41" y="389.53" width="34.21" height="31.84" fill="#b40426"/>
<text x="111.12" y="407.60" text-anchor="middle" fill="#fff" stroke="#fff">1</text>
<rect x="127.83" y="389.53" width="33.41" height="31.84" fill="#b40426"/>
<text x="144.54" y="407.60" text-anchor="middle" fill="#fff" stroke="#fff">1</text>
<rect x="194.66" y="389.53" width="34.21" height="31.04" fill="#3b4cc0"/>
<text x="211.36" y="407.60" text-anchor="middle" fill="#fff" stroke="#fff">1.1e-06</text>
<rect x="228.07" y="389.53" width="34.21" height="31.84" fill="#3b4cc0"/>
<text x="244.78" y="407.60" text-anchor="middle" fill="#fff" stroke="#fff">2.9e-20</text>
<rect x="261.49" y="389.53" width="33.41" height="31.84" fill="#3b4cc0"/>
<text x="278.19" y="407.60" text-anchor="middle" fill="#fff" stroke="#fff">1.3e-40</text>
<rect x="61.00" y="420.57" width="34.21" height="31.84" fill="#b40426"/>
<text x="77.71" y="438.64" text-anchor="middle" fill="#fff" stroke="#fff">1</text>
<rect x="94.41" y="420.57" width="34.21" height="31.84" fill="#b40426"/>
<text x="111.12" y="438.64" text-anchor="middle" fill="#fff" stroke="#fff">1</text>
<rect x="127.83" y="420.57" width="34.21" height="31.84" fill="#b40426"/>
<text x="144.54" y="438.64" text-anchor="middle" fill="#fff" stroke="#fff">1</text>
<rect x="161.24" y="420.57" width="33.41" height="31.84" fill="#b40426"/>
<text x="177.95" y="438.64" text-anchor="middle" fill="#fff" stroke="#fff">1</text>
<rect x="228.07" y="420.57" width="34.21" height="31.04" fill="#3b4cc0"/>
<text x="244.78" y="438.64" text-anchor="middle" fill="#fff" stroke="#fff">0.0032</text>
<rect x="261.49" y="420.57" width="33.41" height="31.84" fill="#3b4cc0"/>
<text x="278.19" y="438.64" text-anchor="middle" fill="#fff" stroke="#fff">8.6e-26</text>
<rect x="61.00" y="451.61" width="34.21" height="31.84" fill="#b40426"/>
<text x="77.71" y="469.69" text-anchor="middle" fill="#fff" stroke="#fff">1</text>
<rect x="94.41" y="451.61" width="34.21" height="31.84" fill="#b40426"/>
<text x="111.12" y="469.69" text-anchor="middle" fill="#fff" stroke="#fff">1</text>
<rect x="127.83" y="451.61" width="34.21" height="31.84" fill="#b40426"/>
<text x="144.54" y="469.69" text-anchor="middle" fill="#fff" stroke="#fff">1</text>
<rect x="161.24" y="451.61" width="34.21" height="31.84" fill="#b40426"/>
<text x="177.95" y="469.69" text-anchor="middle" fill="#fff" stroke="#fff">1</text>
<rect x="194.66" y="451.61" width="33.41" height="31.84" fill="#b40426"/>
<text x="211.36" y="469.69" text-anchor="middle" fill="#fff" stroke="#fff">1</text>
<rect x="261.49" y="451.61" width="33.41" height="31.04" fill="#3b4cc0"/>
<text x="278.19" y="469.69" text-anchor="middle" fill="#fff" stroke="#fff">4.8e-13</text>
<rect x="61.00" y="482.66" width="34.21" height="31.04" fill="#b40426"/>
<text x="77.71" y="500.73" text-anchor="middle" fill="#fff" stroke="#fff">1</text>
<rect x="94.41" y="482.66" width="34.21" height="31.04" fill="#b40426"/>
<text x="111.12" y="500.73" text-anchor="middle" fill="#fff" stroke="#fff">1</text>
<rect x="127.83" y="482.66" width="34.21" height="31.04" fill="#b40426"/>
<text x="144.54" y="500.73" text-anchor="middle" fill="#fff" stroke="#fff">1</text>
<rect x="161.24" y="482.66" width="34.21" height="31.04" fill="#b40426"/>
<text x="177.95" y="500.73" text-anchor="middle" fill="#fff" stroke="#fff">1</text>
<rect x="194.66" y="482.66" width="34.21" height="31.04" fill="#b40426"/>
<text x="211.36" y="500.73" text-anchor="middle" fill="#fff" stroke="#fff">1</text>
<rect x="228.07" y="482.66" width="33.41" height="31.04" fill="#b40426"/>
<text x="244.78" y="500.73" text-anchor="middle" fill="#fff" stroke="#fff">1</text>
<rect x="127.33" y="296.40" width="1" height="31.04" fill="#fff" fill-opacity="0.035"/>
<rect x="160.74" y="296.40" width="1" height="31.04" fill="#fff" fill-opacity="0.035"/>
<rect x="127.83" y="326.94" width="33.41" height="1" fill="#fff" fill-opacity="0.035"/>
<rect x="194.16" y="296.40" width="1" height="31.04" fill="#fff" fill-opacity="0.035"/>
<rect x="161.24" y="326.94" width="33.41" height="1" fill="#fff" fill-opacity="0.035"/>
<rect x="227.57" y="296.40" width="1" height="31.04" fill="#fff" fill-opacity="0.035"/>
<rect x="194.66" y="326.94" width="33.41" height="1" fill="#fff" fill-opacity="0.035"/>
<rect x="260.99" y="296.40" width="1" height="31.04" fill="#fff" fill-opacity="0.035"/>
<rect x="228.07" y="326.94" width="33.41" height="1" fill="#fff" fill-opacity="0.035"/>
<rect x="261.49" y="326.94" width="33.41" height="1" fill="#fff" fill-opacity="0.035"/>
<rect x="61.00" y="357.99" width="33.41" height="1" fill="#fff" fill-opacity="0.035"/>
<rect x="160.74" y="327.44" width="1" height="31.04" fill="#fff" fill-opacity="0.035"/>
<rect x="194.16" y="327.44" width="1" height="31.04" fill="#fff" fill-opacity="0.035"/>
<rect x="161.24" y="357.99" width="33.41" height="1" fill="#fff" fill-opacity="0.035"/>
<rect x="227.57" y="327.44" width="1" height="31.04" fill="#fff" fill-opacity="0.035"/>
<rect x="194.66" y="357.99" width="33.41" height="1" fill="#fff" fill-opacity="0.035"/>
<rect x="260.99" y="327.44" width="1" height="31.04" fill="#fff" fill-opacity="0.035"/>
<rect x="228.07" y="357.99" width="33.41" height="1" fill="#fff" fill-opacity="0.035"/>
<rect x="261.49" y="357.99" width="33.41" height="1" fill="#fff" fill-opacity="0.035"/>
<rect x="93.91" y="358.49" width="1" height="31.04" fill="#fff" fill-opacity="0.035"/>
<rect x="61.00" y="389.03" width="33.41" height="1" fill="#fff" fill-opacity="0.035"/>
<rect x="94.41" y="389.03" width="33.41" height="1" fill="#fff" fill-opacity="0.035"/>
<rect x="194.16" y="358.49" width="1" height="31.04" fill="#fff" fill-opacity="0.035"/>
<rect x="227.57" y="358.49" width="1" height="31.04" fill="#fff" fill-opacity="0.035"/>
<rect x="194.66" y="389.03" width="33.41" height="1" fill="#fff" fill-opacity="0.035"/>
<rect x="260.99" y="358.49" width="1" height="31.04" fill="#fff" fill-opacity="0.035"/>
<rect x="228.07" y="389.03" width="33.41" height="1" fill="#fff" fill-opacity="0.035"/>
<rect x="261.49" y="389.03" width="33.41" height="1" fill="#fff" fill-opacity="0.035"/>
<rect x="93.91" y="389.53" width="1" height="31.04" fill="#fff" fill-opacity="0.035"/>
<rect x="61.00" y="420.07" width="33.41" height="1" fill="#fff" fill-opacity="0.035"/>
<rect x="127.33" y="389.53" width="1" height="31.04" fill="#fff" fill-opacity="0.035"/>
<rect x="94.41" y="420.07" width="33.41" height="1" fill="#fff" fill-opacity="0.035"/>
<rect x="127.83" y="420.07" width="33.41" height="1" fill="#fff" fill-opacity="0.035"/>
<rect x="227.57" y="389.53" width="1" height="31.04" fill="#fff" fill-opacity="0.035"/>
<rect x="260.99" y="389.53" width="1" height="31.04" fill="#fff" fill-opacity="0.035"/>
<rect x="228.07" y="420.07" width="33.41" height="1" fill="#fff" fill-opacity="0.035"/>
<rect x="261.49" y="420.07" width="33.41" height="1" fill="#fff" fill-opacity="0.035"/>
<rect x="93.91" y="420.57" width="1" height="31.04" fill="#fff" fill-opacity="0.035"/>
<rect x="61.00" y="451.11" width="33.41" height="1" fill="#fff" fill-opacity="0.035"/>
<rect x="127.33" y="420.57" width="1" height="31.04" fill="#fff" fill-opacity="0.035"/>
<rect x="94.41" y="451.11" width="33.41" height="1" fill="#fff" fill-opacity="0.035"/>
<rect x="160.74" y="420.57" width="1" height="31.04" fill="#fff" fill-opacity="0.035"/>
<rect x="127.83" y="451.11" width="33.41" height="1" fill="#fff" fill-opacity="0.035"/>
<rect x="161.24" y="451.11" width="33.41" height="1" fill="#fff" fill-opacity="0.035"/>
<rect x="260.99" y="420.57" width="1" height="31.04" fill="#fff" fill-opacity="0.035"/>
<rect x="261.49" y="451.11" width="33.41" height="1" fill="#fff" fill-opacity="0.035"/>
<rect x="93.91" y="451.61" width="1" height="31.04" fill="#fff" fill-opacity="0.035"/>
<rect x="61.00" y="482.16" width="33.41" height="1" fill="#fff" fill-opacity="0.035"/>
<rect x="127.33" y="451.61" width="1" height="31.04" fill="#fff" fill-opacity="0.035"/>
<rect x="94.41" y="482.16" width="33.41" height="1" fill="#fff" fill-opacity="0.035"/>
<rect x="160.74" y="451.61" width="1" height="31.04" fill="#fff" fill-opacity="0.035"/>
<rect x="127.83" y="482.16" width="33.41" height="1" fill="#fff" fill-opacity="0.035"/>
<rect x="194.16" y="451.61" width="1" height="31.04" fill="#fff" fill-opacity="0.035"/>
<rect x="161.24" y="482.16" width="33.41" height="1" fill="#fff" fill-opacity="0.035"/>
<rect x="194.66" y="482.16" width="33.41" height="1" fill="#fff" fill-opacity="0.035"/>
<rect x="93.91" y="482.66" width="1" height="31.04" fill="#fff" fill-opacity="0.035"/>
<rect x="127.33" y="482.66" width="1" height="31.04" fill="#fff" fill-opacity="0.035"/>
<rect x="160.74" y="482.66" width="1" height="31.04" fill="#fff" fill-opacity="0.035"/>
<rect x="194.16" y="482.66" width="1" height="31.04" fill="#fff" fill-opacity="0.035"/>
<rect x="227.57" y="482.66" width="1" height="31.04" fill="#fff" fill-opacity="0.035"/>
<rect x="58.00" y="311.37" width="3.1" height="1.1" fill="#000"/>
<text x="55.30" y="314.47" text-anchor="end" fill="#000" stroke="#000">DesiRNA</text>
<rect x="58.00" y="342.41" width="3.1" height="1.1" fill="#000"/>
<text x="55.30" y="345.51" text-anchor="end" fill="#000" stroke="#000">DSS-Opt</text>
<rect x="58.00" y="373.46" width="3.1" height="1.1" fill="#000"/>
<text x="55.30" y="376.56" text-anchor="end" fill="#000" stroke="#000">Meta-LEARNA</text>
<rect x="58.00" y="404.50" width="3.1" height="1.1" fill="#000"/>
<text x="55.30" y="407.60" text-anchor="end" fill="#000" stroke="#000">RNAinverse</text>
<rect x="58.00" y="435.54" width="3.1" height="1.1" fill="#000"/>
<text x="55.30" y="438.64" text-anchor="end" fill="#000" stroke="#000">RNARedPrint</text>
<rect x="58.00" y="466.59" width="3.1" height="1.1" fill="#000"/>
<text x="55.30" y="469.69" text-anchor="end" fill="#000" stroke="#000">INFO-RNA</text>
<rect x="58.00" y="497.63" width="3.1" height="1.1" fill="#000"/>
<text x="55.30" y="500.73" text-anchor="end" fill="#000" stroke="#000">RNAsfbinv</text>
<rect x="77.16" y="513.70" width="1.1" height="3.1" fill="#000"/>
<text transform="translate(80.51,519.70) rotate(-90)" text-anchor="end" fill="#000" stroke="#000">DesiRNA</text>
<rect x="110.57" y="513.70" width="1.1" height="3.1" fill="#000"/>
<text transform="translate(113.92,519.70) rotate(-90)" text-anchor="end" fill="#000" stroke="#000">DSS-Opt</text>
<rect x="143.99" y="513.70" width="1.1" height="3.1" fill="#000"/>
<text transform="translate(147.34,519.70) rotate(-90)" text-anchor="end" fill="#000" stroke="#000">Meta-LEARNA</text>
<rect x="177.40" y="513.70" width="1.1" height="3.1" fill="#000"/>
<text transform="translate(180.75,519.70) rotate(-90)" text-anchor="end" fill="#000" stroke="#000">RNAinverse</text>
<rect x="210.81" y="513.70" width="1.1" height="3.1" fill="#000"/>
<text transform="translate(214.16,519.70) rotate(-90)" text-anchor="end" fill="#000" stroke="#000">RNARedPrint</text>
<rect x="244.23" y="513.70" width="1.1" height="3.1" fill="#000"/>
<text transform="translate(247.58,519.70) rotate(-90)" text-anchor="end" fill="#000" stroke="#000">INFO-RNA</text>
<rect x="277.64" y="513.70" width="1.1" height="3.1" fill="#000"/>
<text transform="translate(280.99,519.70) rotate(-90)" text-anchor="end" fill="#000" stroke="#000">RNAsfbinv</text>
<rect x="309.20" y="296.40" width="11.5" height="217.30" fill="url(#cw)"/>
<rect x="320.70" y="513.15" width="3.1" height="1.1" fill="#000"/>
<text x="326.10" y="516.70" fill="#000" stroke="#000">0.0</text>
<rect x="320.70" y="469.69" width="3.1" height="1.1" fill="#000"/>
<text x="326.10" y="473.34" fill="#000" stroke="#000">0.2</text>
<rect x="320.70" y="426.23" width="3.1" height="1.1" fill="#000"/>
<text x="326.10" y="429.98" fill="#000" stroke="#000">0.4</text>
<rect x="320.70" y="382.77" width="3.1" height="1.1" fill="#000"/>
<text x="326.10" y="386.62" fill="#000" stroke="#000">0.6</text>
<rect x="320.70" y="339.31" width="3.1" height="1.1" fill="#000"/>
<text x="326.10" y="343.26" fill="#000" stroke="#000">0.8</text>
<rect x="320.70" y="295.85" width="3.1" height="1.1" fill="#000"/>
<text x="326.10" y="299.90" fill="#000" stroke="#000">1.0</text></g>
</svg>
</body></html>
